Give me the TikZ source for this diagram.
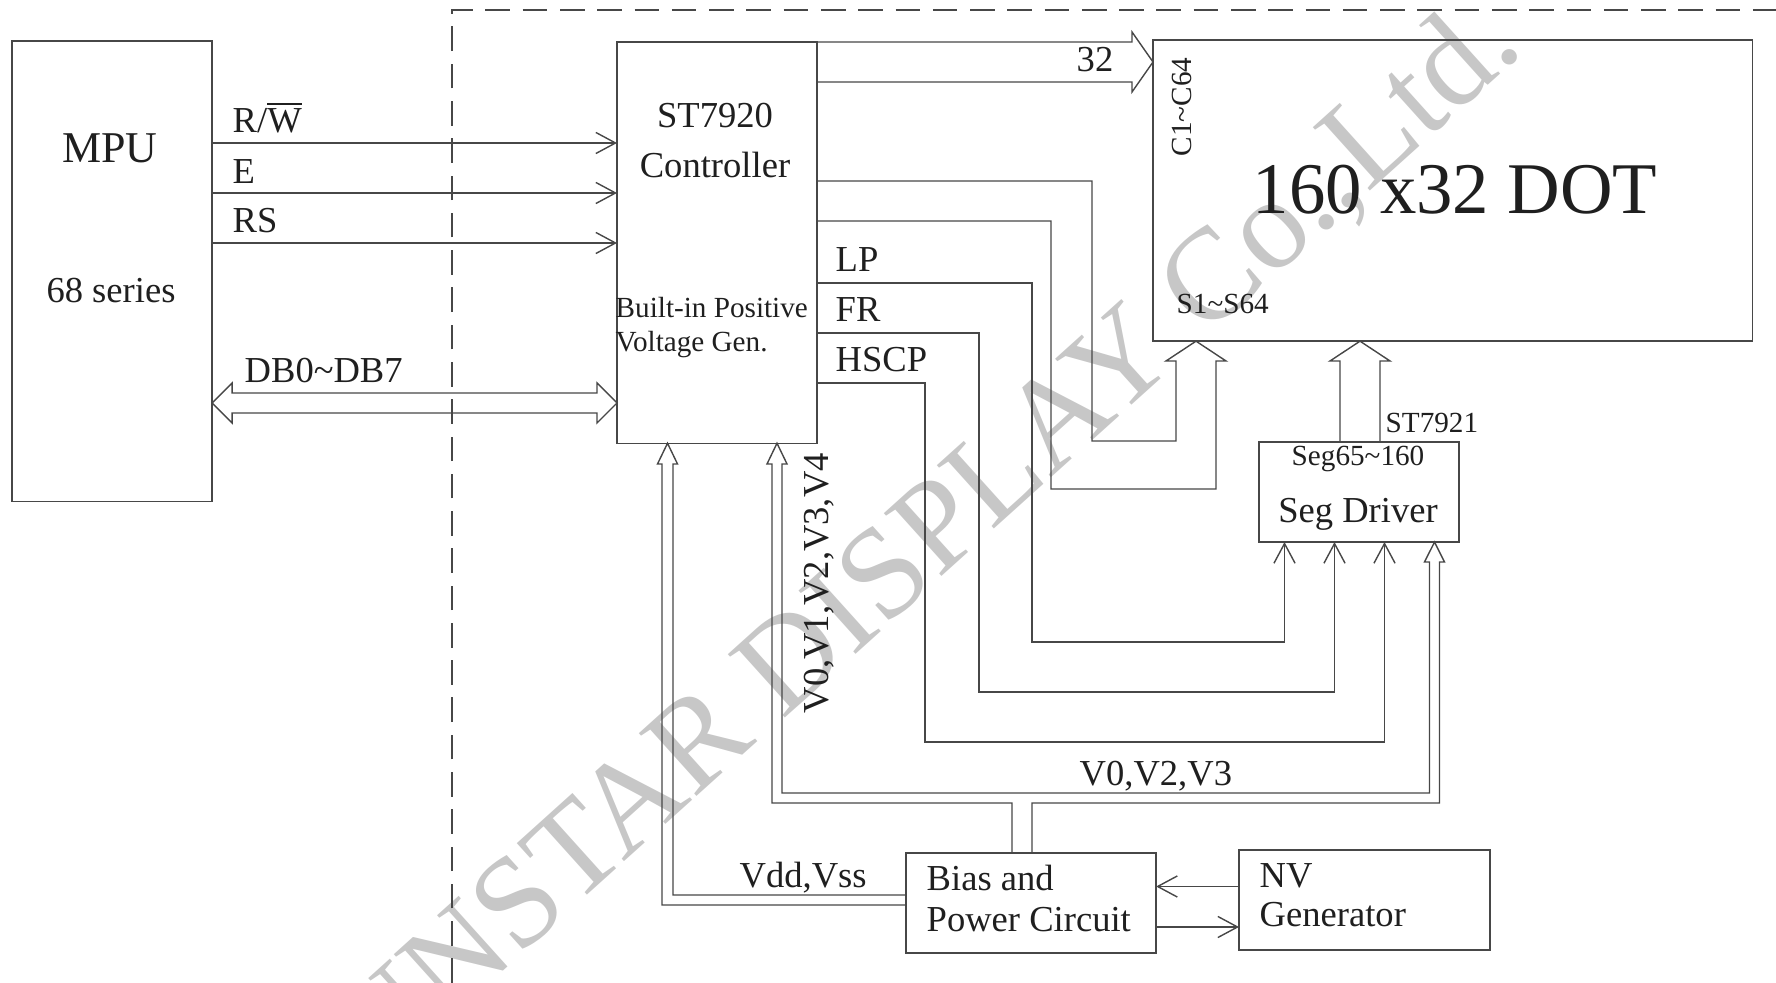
\documentclass[tikz,border=0pt]{standalone}
\usepackage{fontspec}
\setmainfont{Liberation Serif}
\usetikzlibrary{arrows.meta,calc}

\begin{document}
\begin{tikzpicture}[x=0.01cm,y=-0.01cm,line join=miter,
    wire/.style={draw=black!72,line width=.4pt},
    sig/.style={wire,-{Straight Barb[length=5.6pt,width=6pt]}},
    blockbox/.style={wire,rectangle,inner sep=0pt,outer sep=0pt,anchor=north west},
    txt/.style={inner sep=0pt,text=black!88,font=\fontsize{10.4}{12}\selectfont},
    txtsm/.style={txt,font=\fontsize{8.3}{10}\selectfont}]
  \useasboundingbox (0,0) rectangle (1776,983);

  % The watermark, behind the drawing.
  \begin{scope}
    \clip (0,0) rectangle (1776,983);
    \node[rotate=42,inner sep=0pt,text=black!22,font=\fontsize{37}{40}\selectfont]
      (mark) at (902,565) {SUNSTAR DISPLAY Co.,Ltd.};
  \end{scope}

  % The module border.
  \draw[wire,dash pattern=on 7pt off 3.6pt] (452,983) -- (452,10) -- (1776,10);

  % The blocks.
  \node[blockbox,minimum width=2cm,minimum height=4.6cm] (mpu) at (12,41) {};
  \node[blockbox,minimum width=2cm,minimum height=4.01cm] (ctrl) at (617,42) {};
  \node[blockbox,minimum width=5.99cm,minimum height=3.01cm] (lcd) at (1153,40) {};
  \node[blockbox,minimum width=2cm,minimum height=1cm] (seg) at (1259,442) {};
  \node[blockbox,minimum width=2.5cm,minimum height=1cm] (bias) at (906,853) {};
  \node[blockbox,minimum width=2.51cm,minimum height=1cm] (nv) at (1239,850) {};

  % Texts in the blocks.
  \node[txt,font=\fontsize{12.5}{14}\selectfont,anchor=base] at (110,163) {MPU};
  \node[txt,anchor=base] at (111,303) {68 series};
  \node[txt,anchor=base] at (715,128) {ST7920};
  \node[txt,anchor=base] at (715,178) {Controller};
  \node[txtsm,anchor=base west] at (615,318) {Built-in Positive};
  \node[txtsm,anchor=base west] at (615,352) {Voltage Gen.};
  \node[txt,font=\fontsize{20.7}{24}\selectfont,anchor=base west] at (1252,214) {160 x32 DOT};
  \node[txtsm,rotate=90,anchor=base west] at (1191,157) {C1\textasciitilde C64};
  \node[txtsm,anchor=base west] at (1176,314) {S1\textasciitilde S64};
  \node[txtsm,anchor=base] at (1358,466) {Seg65\textasciitilde 160};
  \node[txt,anchor=base] at (1358,523) {Seg Driver};
  \node[txt,anchor=base west] at (926,890) {Bias and};
  \node[txt,anchor=base west] at (926,932) {Power Circuit};
  \node[txt,anchor=base west] at (1259,888) {NV};
  \node[txt,anchor=base west] at (1259,926) {Generator};

  % MPU to controller.
  \foreach \yy in {143,193,243}
    \draw[sig] (mpu.east |- 0,\yy) -- (ctrl.west |- 0,\yy);
  \node[txt,anchor=base west] at (232,133) {R/$\overline{\hbox{W}}$};
  \node[txt,anchor=base west] at (232,184) {E};
  \node[txt,anchor=base west] at (232,233) {RS};

  \draw[wire] (mpu.east |- 0,403) -- ++(20,-20) -- ++(0,10)
    -- ($(ctrl.west |- 0,393)+(-20,0)$) -- ++(0,-10) -- (ctrl.west |- 0,403)
    -- ++(-20,20) -- ++(0,-10) -- ($(mpu.east |- 0,413)+(20,0)$) -- ++(0,10) -- cycle;
  \node[txt,anchor=base west] at (244,383) {DB0\textasciitilde DB7};

  % Controller to the display.
  \draw[wire] (ctrl.north east) -- (1132,42) -- (1132,32) -- (lcd.west |- 0,62)
    -- (1132,92) -- (1132,82) -- (ctrl.east |- 0,82);
  \node[txt,anchor=base west] at (1076,72) {32};

  \draw[wire] (ctrl.east |- 0,181) -- (1092,181) -- (1092,441) -- (1176,441)
    -- (1176,361) -- (1166,361) -- (lcd.south -| 1196,0) -- (1226,361)
    -- (1216,361) -- (1216,489) -- (1051,489) -- (1051,221) -- (ctrl.east |- 0,221);

  \draw[wire] (seg.north -| 1340,0) -- (1340,361) -- (1330,361)
    -- (lcd.south -| 1360,0) -- (1390,361) -- (1380,361) -- (seg.north -| 1380,0);
  \node[txtsm,anchor=base west] at (1385,433) {ST7921};

  % Timing signals to the segment driver.
  \foreach \yy/\xx/\ylow/\xin in {283/1032/642/1284.5,333/979/692/1334.5,383/925/742/1384.5}
    \draw[sig] (ctrl.east |- 0,\yy) -| (\xx,\ylow) -| (seg.south -| \xin,0);
  \node[txt,anchor=base west] at (835,272) {LP};
  \node[txt,anchor=base west] at (835,322) {FR};
  \node[txt,anchor=base west] at (835,372) {HSCP};

  % Supplies from the bias circuit.
  \draw[wire] (bias.west |- 0,895) -- (673,895) -- (673,464) -- (677.5,464)
    -- (ctrl.south -| 667.5,0) -- (657.5,464) -- (662,464) -- (662,905)
    -- (bias.west |- 0,905);
  \node[txt,anchor=base west] at (739,887) {Vdd,Vss};

  \draw[wire] (bias.north -| 1012,0) -- (1012,803) -- (772,803) -- (772,464)
    -- (767,464) -- (ctrl.south -| 777,0) -- (787,464) -- (782,464) -- (782,793)
    -- (1429.5,793) -- (1429.5,562) -- (1424.5,562) -- (seg.south -| 1434.5,0)
    -- (1444.5,562) -- (1439.5,562) -- (1439.5,803) -- (1032,803)
    -- (bias.north -| 1032,0);
  \node[txt,rotate=90,anchor=base west] at (828,714) {V0,V1,V2,V3,V4};
  \node[txt,anchor=base west] at (1079,786) {V0,V2,V3};

  % Bias circuit and NV generator.
  \draw[sig] (nv.west |- 0,886.5) -- (bias.east |- 0,886.5);
  \draw[sig] (bias.east |- 0,927) -- (nv.west |- 0,927);
\end{tikzpicture}
\end{document}
